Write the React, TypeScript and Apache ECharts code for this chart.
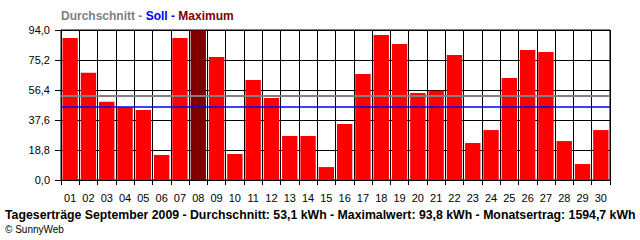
import React, { useEffect, useRef } from "react";
import * as echarts from "echarts";

const days = ["01","02","03","04","05","06","07","08","09","10","11","12","13","14","15","16","17","18","19","20","21","22","23","24","25","26","27","28","29","30"];
const yields = [89.0,67.2,49.1,45.6,43.9,15.7,89.0,93.8,77.1,16.3,62.7,51.4,27.6,27.6,8.1,35.1,66.4,90.9,85.2,54.5,56.0,78.3,23.2,31.3,63.9,81.5,80.2,24.4,10.0,31.3];
const average = 53.1;
const target = 45.6;
const maxIndex = 7;
const yTicks = { min: 0, max: 94, interval: 18.8 };
const footerText = "Tageserträge September 2009 - Durchschnitt: 53,1 kWh - Maximalwert: 93,8 kWh - Monatsertrag: 1594,7 kWh";
const copyright = "© SunnyWeb";

const FONT = "'Liberation Sans', Arial, sans-serif";

export default function App() {
  const ref = useRef<HTMLDivElement>(null);
  useEffect(() => {
    if (!ref.current) return;
    const chart = echarts.init(ref.current, null, { renderer: "svg" });
    chart.setOption({
      animation: false,
      backgroundColor: "#ffffff",
      textStyle: { fontFamily: FONT },
      title: {
        left: 56,
        top: 5,
        text: "{g|Durchschnitt - }{b|Soll - }{r|Maximum}",
        textStyle: {
          fontSize: 12,
          fontWeight: "bold",
          rich: {
            g: { color: "#808080", fontSize: 12, fontWeight: "bold", fontFamily: FONT },
            b: { color: "#0000ff", fontSize: 12, fontWeight: "bold", fontFamily: FONT },
            r: { color: "#800000", fontSize: 12, fontWeight: "bold", fontFamily: FONT },
          },
        },
      },
      grid: { left: 61, right: 30, top: 30, bottom: 60, containLabel: false, outerBoundsMode: "none", show: true, borderColor: "#000", borderWidth: 1 },
      xAxis: {
        type: "category",
        data: days,
        boundaryGap: true,
        axisLine: { show: true, lineStyle: { color: "#000", width: 1 } },
        axisTick: { show: true, alignWithLabel: false, length: 5, interval: 0, lineStyle: { color: "#000" } },
        axisLabel: { interval: 0, margin: 12, fontSize: 11, color: "#000", fontFamily: FONT },
        splitLine: { show: true, interval: 0, lineStyle: { color: "#000", width: 1 } },
      },
      yAxis: {
        type: "value",
        min: yTicks.min,
        max: yTicks.max,
        interval: yTicks.interval,
        axisLine: { show: true, lineStyle: { color: "#000", width: 1 } },
        axisTick: { show: true, length: 6, lineStyle: { color: "#000" } },
        axisLabel: {
          margin: 11,
          fontSize: 11,
          color: "#000",
          fontFamily: FONT,
          formatter: (v: number) => v.toFixed(1).replace(".", ","),
        },
        splitLine: { show: true, lineStyle: { color: "#000", width: 1 } },
      },
      series: [
        {
          type: "bar",
          data: yields.map((v, i) => (i === maxIndex ? { value: v, itemStyle: { color: "#800000" } } : v)),
          itemStyle: { color: "#ff0000" },
          barCategoryGap: "16%",
          markLine: {
            silent: true,
            symbol: "none",
            label: { show: false },
            z: 10,
            data: [
              { yAxis: average, lineStyle: { color: "#808080", width: 2, type: "solid" } },
              { yAxis: target, lineStyle: { color: "#0000ff", width: 1.5, type: "solid" } },
            ],
          },
        },
      ],
      graphic: [
        { type: "text", left: 5, top: 209, style: { text: footerText, fontSize: 12.3, fontWeight: "bold", fill: "#000", fontFamily: FONT } },
        { type: "text", left: 5, top: 224, style: { text: copyright, fontSize: 10, fill: "#000", fontFamily: FONT } },
      ],
    });
    return () => chart.dispose();
  }, []);
  return <div ref={ref} style={{ width: 640, height: 240, position: "absolute", left: 0, top: 0 }} />;
}
